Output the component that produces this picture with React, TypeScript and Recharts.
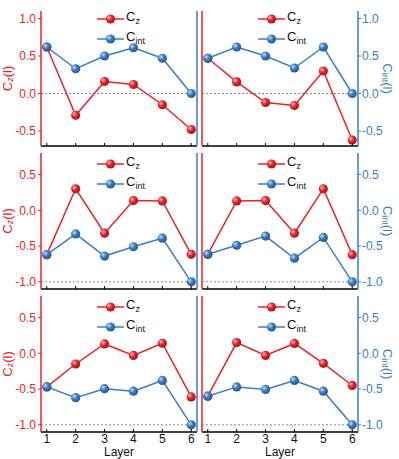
import React from 'react';
import { LineChart, Line, XAxis, YAxis, ReferenceLine, Legend } from 'recharts';

const layers = [1, 2, 3, 4, 5, 6];
const czA = [0.62, -0.29, 0.16, 0.12, -0.15, -0.48];
const cintA = [0.62, 0.33, 0.5, 0.61, 0.47, 0.0];
const czB = [0.47, 0.155, -0.12, -0.16, 0.3, -0.62];
const cintB = [0.47, 0.62, 0.5, 0.34, 0.62, 0.0];
const czC = [-0.62, 0.3, -0.32, 0.135, 0.13, -0.615];
const cintC = [-0.62, -0.33, -0.64, -0.51, -0.39, -1.0];
const czD = [-0.615, 0.13, 0.135, -0.32, 0.3, -0.62];
const cintD = [-0.615, -0.49, -0.36, -0.67, -0.38, -1.0];
const czE = [-0.47, -0.15, 0.13, -0.03, 0.14, -0.61];
const cintE = [-0.47, -0.62, -0.495, -0.53, -0.38, -1.0];
const czF = [-0.6, 0.15, -0.03, 0.137, -0.14, -0.45];
const cintF = [-0.6, -0.47, -0.505, -0.38, -0.53, -1.0];

const ticksTop = [-0.5, 0, 0.5, 1.0];
const ticksLow = [-1.0, -0.5, 0, 0.5];
const domainTop: [number, number] = [-0.7, 1.1];
const domainLow: [number, number] = [-1.1, 0.8];

const RED = '#e8222a';
const BLUE = '#3a7dc0';
const FONT = '"Liberation Sans", Arial, sans-serif';

const build = (cz: number[], cint: number[]) =>
  layers.map((l, i) => ({ layer: l, cz: cz[i], cint: cint[i] }));

const Ball = (id: string) => (props: any) => {
  const { cx, cy, index } = props;
  if (cx == null || cy == null) return <g key={index} />;
  return <circle key={index} cx={cx} cy={cy} r={4.6} fill={`url(#${id})`} />;
};

const LegendRow = ({ color, id, sub }: { color: string; id: string; sub: string }) => (
  <div style={{ display: 'flex', alignItems: 'center', height: 20 }}>
    <svg width={28} height={20} style={{ display: 'block' }}>
      <line x1={0} x2={27} y1={10} y2={10} stroke={color} strokeWidth={1.5} />
      <circle cx={13.5} cy={10} r={4.6} fill={`url(#${id})`} />
    </svg>
    <span style={{ fontFamily: FONT, fontSize: 13, color: '#111', lineHeight: '20px', marginLeft: 1 }}>
      C<sub style={{ fontSize: 9, verticalAlign: -3 }}>{sub}</sub>
    </span>
  </div>
);

type PanelProps = {
  cz: number[];
  cint: number[];
  left: number;
  top: number;
  isLeft: boolean;
  isBottom: boolean;
  topRow: boolean;
  pid: string;
};

const Panel = ({ cz, cint, left, top, isLeft, isBottom, topRow, pid }: PanelProps) => {
  const data = build(cz, cint);
  const domain = topRow ? domainTop : domainLow;
  const ticks = topRow ? ticksTop : ticksLow;
  const refY = topRow ? 0 : -1;
  const marginTop = topRow ? 11 : 8;
  const plotH = topRow ? 135 : 136;
  const xH = isBottom ? 27 : 4;
  const height = marginTop + plotH + xH;
  const width = isLeft ? 200 : 199;
  const leftW = isLeft ? 41 : 2;
  const rightW = isLeft ? 3 : 41;
  const rid = `r${pid}`;
  const bid = `b${pid}`;

  const xTick = (props: any) => {
    const { x, y, payload } = props;
    return (
      <g>
        <line x1={x} x2={x} y1={y} y2={y - 3} stroke="#000" strokeWidth={1} />
        {isBottom && (
          <text x={x} y={y + 10.5} textAnchor="middle" fontSize={12} fontFamily={FONT} fill="#111">
            {payload.value}
          </text>
        )}
      </g>
    );
  };

  const xTitle = (props: any) => {
    const vb = props.viewBox || {};
    const cx = (vb.x || 0) + (vb.width || 0) / 2;
    const by = (vb.y || 0) + 24;
    return (
      <text x={cx} y={by} textAnchor="middle" fontSize={12} fontFamily={FONT} fill="#111">
        Layer
      </text>
    );
  };

  const leftTitle = (props: any) => {
    const vb = props.viewBox || {};
    const cx = (vb.x || 0) + 7;
    const cy = (vb.y || 0) + (vb.height || 0) / 2;
    return (
      <text x={cx} y={cy} transform={`rotate(-90 ${cx} ${cy})`} textAnchor="middle" dominantBaseline="central" fontSize={13} fontFamily={FONT} fill={RED}>
        <tspan>C</tspan>
        <tspan fontSize={9} dy={3}>z</tspan>
        <tspan dy={-3}>(l)</tspan>
      </text>
    );
  };

  const rightTitle = (props: any) => {
    const vb = props.viewBox || {};
    const cx = (vb.x || 0) + 30;
    const cy = (vb.y || 0) + (vb.height || 0) / 2;
    return (
      <text x={cx} y={cy} transform={`rotate(90 ${cx} ${cy})`} textAnchor="middle" dominantBaseline="central" fontSize={13} fontFamily={FONT} fill={BLUE}>
        <tspan>C</tspan>
        <tspan fontSize={9} dy={3}>int</tspan>
        <tspan dy={-3}>(l)</tspan>
      </text>
    );
  };

  return (
    <div style={{ position: 'absolute', left, top, width, height }}>
      <LineChart width={width} height={height} data={data} margin={{ top: marginTop, right: 0, bottom: 0, left: 0 }}>
        <defs>
          <radialGradient id={rid} cx="35%" cy="35%" r="70%">
            <stop offset="0%" stopColor="#ffc4c4" />
            <stop offset="45%" stopColor={RED} />
            <stop offset="100%" stopColor="#a3141a" />
          </radialGradient>
          <radialGradient id={bid} cx="35%" cy="35%" r="70%">
            <stop offset="0%" stopColor="#c6def5" />
            <stop offset="45%" stopColor={BLUE} />
            <stop offset="100%" stopColor="#22578c" />
          </radialGradient>
        </defs>
        <XAxis
          xAxisId="b"
          dataKey="layer"
          type="number"
          domain={[0.8, 6.2]}
          ticks={layers}
          interval={0}
          height={xH}
          tickSize={0}
          tickMargin={0}
          tickLine={false}
          tick={xTick}
          axisLine={{ stroke: '#000', strokeWidth: 1.5 }}
          label={isBottom ? xTitle : undefined}
        />
        <XAxis
          xAxisId="t"
          orientation="top"
          dataKey="layer"
          type="number"
          domain={[0.8, 6.2]}
          height={0}
          tick={false}
          tickLine={false}
          axisLine={{ stroke: '#000', strokeWidth: 1.5 }}
        />
        <YAxis
          yAxisId="l"
          orientation="left"
          type="number"
          domain={domain}
          ticks={ticks}
          width={leftW}
          allowDataOverflow
          tick={isLeft ? { fill: RED, fontSize: 12, fontFamily: FONT } : false}
          tickFormatter={(v: number) => v.toFixed(1)}
          tickSize={3}
          tickMargin={2}
          tickLine={isLeft ? { stroke: RED } : false}
          axisLine={{ stroke: RED, strokeWidth: 1.5 }}
          label={isLeft ? leftTitle : undefined}
        />
        <YAxis
          yAxisId="r"
          orientation="right"
          type="number"
          domain={domain}
          ticks={ticks}
          width={rightW}
          allowDataOverflow
          tick={!isLeft ? { fill: BLUE, fontSize: 12, fontFamily: FONT } : false}
          tickFormatter={(v: number) => v.toFixed(1)}
          tickSize={3}
          tickMargin={1}
          tickLine={!isLeft ? { stroke: BLUE } : false}
          axisLine={{ stroke: BLUE, strokeWidth: 1.5 }}
          label={!isLeft ? rightTitle : undefined}
        />
        <ReferenceLine xAxisId="b" yAxisId="l" y={refY} stroke="#888" strokeDasharray="2 2" strokeWidth={1} />
        <Line xAxisId="b" yAxisId="l" dataKey="cz" stroke={RED} strokeWidth={1.5} dot={Ball(rid)} activeDot={false} isAnimationActive={false} />
        <Line xAxisId="b" yAxisId="r" dataKey="cint" stroke={BLUE} strokeWidth={1.5} dot={Ball(bid)} activeDot={false} isAnimationActive={false} />
        <Legend
          layout="vertical"
          align="center"
          verticalAlign="middle"
          wrapperStyle={{ left: leftW + 56, top: 9, width: 'auto' }}
          content={() => (
            <div>
              <LegendRow color={RED} id={rid} sub="z" />
              <LegendRow color={BLUE} id={bid} sub="int" />
            </div>
          )}
        />
      </LineChart>
    </div>
  );
}

export default function App() {
  return (
    <div style={{ position: 'absolute', left: 0, top: 0, width: 399, height: 459, background: '#fff' }}>
      <Panel pid="a" cz={czA} cint={cintA} left={0} top={0} isLeft isBottom={false} topRow />
      <Panel pid="b" cz={czB} cint={cintB} left={200} top={0} isLeft={false} isBottom={false} topRow />
      <Panel pid="c" cz={czC} cint={cintC} left={0} top={145} isLeft isBottom={false} topRow={false} />
      <Panel pid="d" cz={czD} cint={cintD} left={200} top={145} isLeft={false} isBottom={false} topRow={false} />
      <Panel pid="e" cz={czE} cint={cintE} left={0} top={288} isLeft isBottom topRow={false} />
      <Panel pid="f" cz={czF} cint={cintF} left={200} top={288} isLeft={false} isBottom topRow={false} />
    </div>
  );
}
